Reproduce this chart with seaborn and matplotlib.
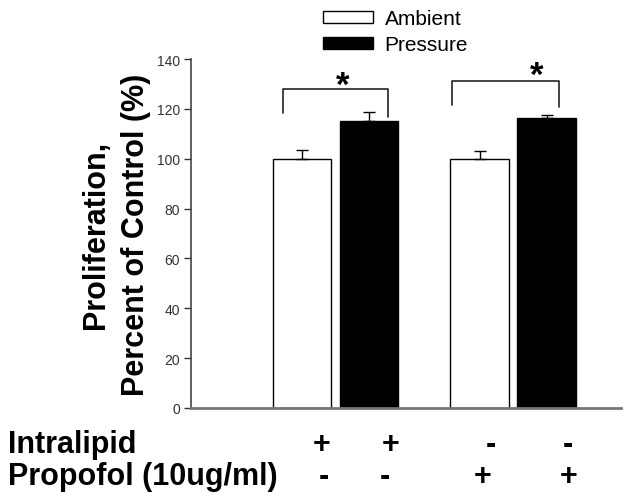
import numpy as np
import pandas as pd
import matplotlib
matplotlib.use("Agg")
import matplotlib.pyplot as plt
import seaborn as sns

# ---- data ----
groups = ["Intralipid", "Propofol"]
conditions = ["Ambient", "Pressure"]
ambient_mean = [100.0, 100.0]
pressure_mean = [115.3, 116.5]
ambient_sem = [3.5, 3.0]
pressure_sem = [3.4, 1.0]
y_ticks = [0, 20, 40, 60, 80, 100, 120, 140]
row_labels = ["Intralipid", "Propofol (10ug/ml)"]
intralipid_signs = ["+", "+", "-", "-"]
propofol_signs = ["-", "-", "+", "+"]
sig_marks = ["*", "*"]

df = pd.DataFrame({
    "group": groups * 2,
    "condition": [conditions[0]] * 2 + [conditions[1]] * 2,
    "value": ambient_mean + pressure_mean,
})

sns.set_style("ticks")
plt.rcParams["font.family"] = ["Liberation Sans", "DejaVu Sans"]
plt.rcParams["text.color"] = "black"
plt.rcParams["axes.labelcolor"] = "black"

fig = plt.figure(figsize=(6.29, 5.02), dpi=100)
ax = fig.add_axes([191 / 629, 1 - 409 / 502, 430 / 629, 349 / 502])

sns.barplot(data=df, x="group", y="value", hue="condition", order=groups,
            hue_order=conditions,
            palette={"Ambient": "white", "Pressure": "black"},
            edgecolor="black", linewidth=1.0, width=0.755, gap=0.13,
            errorbar=None, ax=ax, legend=True)

# error bars (upper only)
sems = [ambient_sem, pressure_sem]
for cont, sem in zip(ax.containers, sems):
    xs = [p.get_x() + p.get_width() / 2 for p in cont.patches]
    ys = [p.get_height() for p in cont.patches]
    ax.errorbar(xs, ys, yerr=[np.zeros(len(sem)), sem], fmt="none",
                ecolor="black", elinewidth=1.0, capsize=4, capthick=1.0,
                zorder=1)

ax.set_xlim(-0.814, 1.608)
ax.set_ylim(0, 140)
ax.set_yticks(y_ticks)
ax.set_xticks([])
ax.set_xlabel("")
ax.set_ylabel("Proliferation,\nPercent of Control (%)", fontsize=22,
              fontweight="bold", labelpad=4, linespacing=1.45)
ax.tick_params(axis="y", labelsize=10, length=5, width=1, colors="#333333",
               pad=3)
for s in ["top", "right"]:
    ax.spines[s].set_visible(False)
ax.spines["left"].set_color("#444444")
ax.spines["left"].set_linewidth(1.2)
ax.spines["bottom"].set_color("#777777")
ax.spines["bottom"].set_linewidth(2)

# significance brackets
bracket_x = [(-0.297, 0.296), (0.656, 1.259)]
bracket_top = [127.8, 131.2]
bracket_legs = [(118.4, 116.7), (121.7, 120.7)]
star_x = [0.042, 1.135]
star_y = [125.5, 129.8]
for (x0, x1), top, (l0, l1), sx, sy, m in zip(bracket_x, bracket_top,
                                             bracket_legs, star_x, star_y,
                                             sig_marks):
    ax.plot([x0, x0, x1, x1], [l0, top, top, l1], color="#222222", lw=1.2,
            clip_on=False)
    ax.text(sx, sy, m, ha="center", va="baseline", fontsize=25,
            fontweight="bold", clip_on=False)

# legend
handles, labels = ax.get_legend_handles_labels()
ax.legend(handles, labels, loc="upper left",
          bbox_to_anchor=(323 / 629, 1 - 10 / 502),
          bbox_transform=fig.transFigure, frameon=False, fontsize=15,
          handlelength=2.4, handleheight=0.5, handletextpad=0.55,
          labelspacing=0.35, borderpad=0, borderaxespad=0)

# treatment rows below the axis
row_base = [1 - 453 / 502, 1 - 485 / 502]
sign_px = [[321.7, 390.7, 490.7, 568.3], [324, 385, 482.7, 568.3]]
for lab, yb, signs, pxs in zip(row_labels, row_base,
                              [intralipid_signs, propofol_signs], sign_px):
    fig.text(8 / 629, yb, lab, fontsize=22, fontweight="bold",
             ha="left", va="baseline")
    for s, px in zip(signs, pxs):
        fig.text(px / 629, yb, s, fontsize=22, fontweight="bold",
                 ha="center", va="baseline")

fig.savefig("out.png", dpi=100)
